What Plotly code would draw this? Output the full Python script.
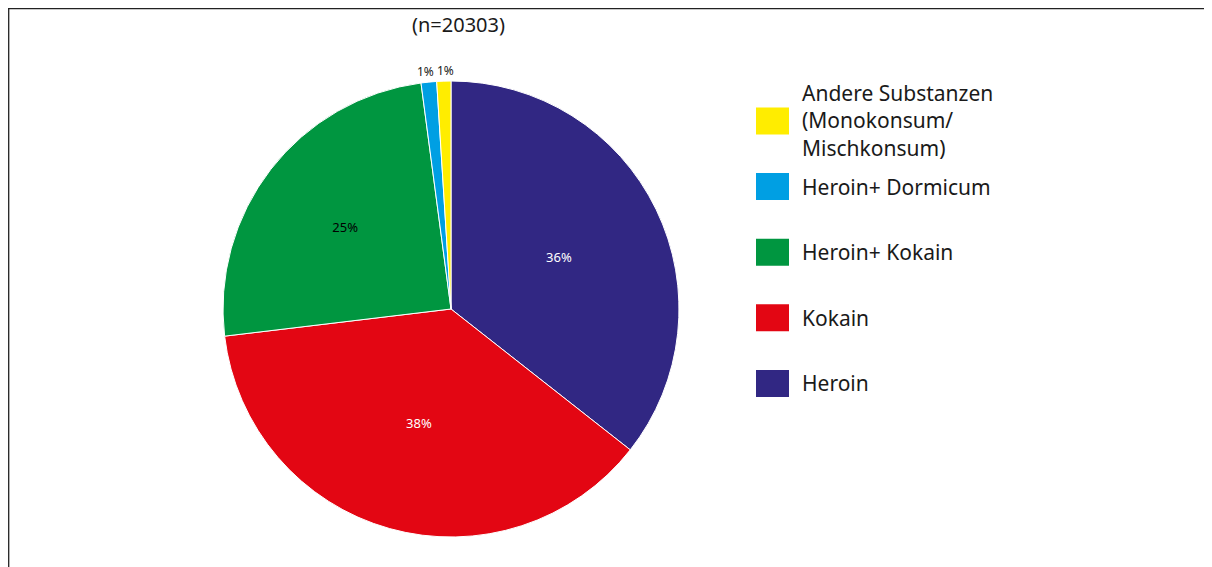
import math
import plotly.graph_objects as go

W, H = 1212, 567
OFF = 8  # page margin offset of the rendered figure

labels = ["Heroin", "Kokain", "Heroin+ Kokain", "Heroin+ Dormicum",
          "Andere Substanzen<br>(Monokonsum/<br>Mischkonsum)"]
values = [35.6, 37.5, 24.8, 1.1, 1.0]
pct_text = ["36%", "38%", "25%", "1%", "1%"]
colors = ["#312783", "#E30613", "#009640", "#009FE3", "#FFED00"]
text_colors = ["white", "white", "black", "black", "black"]
subtitle = "(n=20303)"

FONT = "Noto Sans"
TXT = "#1a1a1a"

# pie geometry (pixels, reference coordinates)
PIE_CX, PIE_CY, PIE_R = 451 - OFF, 309 - OFF, 228
dom_x = [(PIE_CX - PIE_R) / W, (PIE_CX + PIE_R) / W]
half_h = 258
dom_y = [1 - (PIE_CY + half_h) / H, 1 - (PIE_CY - half_h) / H]

total = sum(values)
small = [v / total < 0.03 for v in values]
inside_text = ["" if s else t for s, t in zip(small, pct_text)]

fig = go.Figure()
fig.add_trace(go.Pie(
    labels=labels, values=values, text=inside_text, textinfo="text",
    sort=False, direction="clockwise", rotation=0,
    marker=dict(colors=colors, line=dict(color="white", width=1)),
    textfont=dict(family=FONT, size=13, color=text_colors),
    insidetextorientation="horizontal",
    textposition="inside",
    domain=dict(x=dom_x, y=dom_y),
    showlegend=False, hoverinfo="label+percent",
))

shapes = [
    dict(type="line", xref="paper", yref="paper", x0=0, x1=1, y0=1 - 0.7 / H, y1=1 - 0.7 / H,
         line=dict(color="#222222", width=1.3)),
    dict(type="line", xref="paper", yref="paper", x0=0.7 / W, x1=0.7 / W, y0=0, y1=1,
         line=dict(color="#222222", width=1.3)),
]
annotations = [
    dict(text=subtitle, xref="paper", yref="paper", x=(458 - OFF) / W, y=1 - (24 - OFF) / H,
         showarrow=False, font=dict(family=FONT, size=20, color=TXT),
         xanchor="center", yanchor="middle"),
]

# outside labels for the small slices, placed at their mid-angle on the rim
cum = 0.0
for v, t, s in zip(values, pct_text, small):
    mid = (cum + v / 2) / total * 2 * math.pi
    cum += v
    if not s:
        continue
    sx = math.sin(mid)
    px = PIE_CX + (PIE_R + 1) * sx
    py = PIE_CY - (PIE_R + 1) * math.cos(mid)
    anchor = "right" if sx < -0.08 else ("left" if sx > 0.08 else "center")
    annotations.append(dict(text=t, xref="paper", yref="paper", x=px / W, y=1 - py / H,
                            xanchor=anchor, yanchor="bottom", showarrow=False,
                            xshift=6 if anchor == "right" else (-6 if anchor == "left" else 2),
                            font=dict(family=FONT, size=12, color=TXT),
                            borderpad=0))

# custom legend, top entry is the last slice
legend_order = list(range(len(labels)))[::-1]
for k, i in enumerate(legend_order):
    cy = 121 - OFF + k * 65.6
    shapes.append(dict(type="rect", xref="paper", yref="paper",
                       x0=(756 - OFF) / W, x1=(789 - OFF) / W,
                       y0=1 - (cy - 13.5) / H, y1=1 - (cy + 13.5) / H,
                       fillcolor=colors[i], line=dict(width=0)))
    annotations.append(dict(text=labels[i], xref="paper", yref="paper", x=(800 - OFF) / W, y=1 - cy / H,
                            xanchor="left", yanchor="middle", align="left", showarrow=False,
                            font=dict(family=FONT, size=21, color=TXT)))

fig.update_layout(
    width=W, height=H, margin=dict(l=0, r=0, t=0, b=0),
    paper_bgcolor="white", plot_bgcolor="white",
    shapes=shapes, annotations=annotations,
)

fig.write_html("out.html")
